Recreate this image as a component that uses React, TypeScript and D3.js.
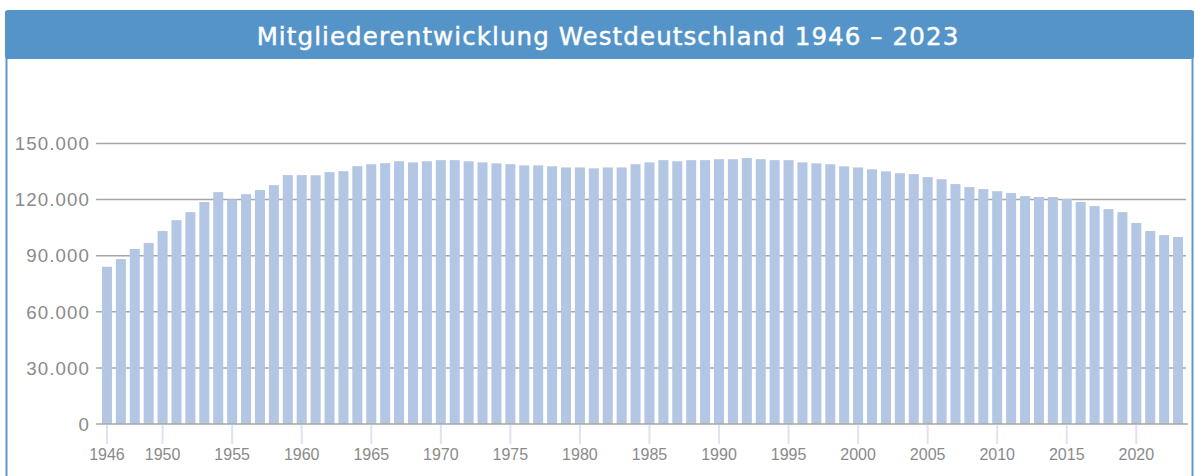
import React from "react";
import { range, scaleBand, scaleLinear, format } from "d3";

const WIDTH = 1195;
const HEIGHT = 476;
const TITLE = "Mitgliederentwicklung Westdeutschland 1946 – 2023";
const PANEL_BLUE = "#5594c9";
const BAR_COLOR = "#b3c6e4";
const GRID_COLOR = "#a6a6a6";
const LABEL_COLOR = "#8a8a8a";
const FONT = "'Liberation Sans', Arial, Helvetica, sans-serif";

const years: number[] = range(1946, 2024);

const members: number[] = [
    84100, 88200, 93600, 96800, 103200, 109000, 113300, 118700, 124000, 120100,
    122900, 125100, 127700, 133100, 133100, 133000, 134700, 135200, 137900, 138900,
    139500, 140500, 139900, 140500, 141100, 141100, 140500, 139900, 139400, 138900,
    138300, 138300, 137800, 137200, 137200, 136700, 137200, 137200, 138900, 139900,
    141100, 140500, 141100, 141100, 141600, 141600, 142200, 141600, 141100, 141100,
    139900, 139400, 138900, 137800, 137200, 136200, 135100, 134100, 133600, 132000,
    130900, 128300, 126700, 125600, 124500, 123500, 121900, 121400, 121400, 120300,
    118700, 116500, 114900, 113300, 107500, 103200, 101000, 100000,
];

const xTickYears: number[] = [
    1946, 1950, 1955, 1960, 1965, 1970, 1975, 1980, 1985, 1990, 1995, 2000, 2005, 2010, 2015, 2020,
];

const yTicks: number[] = [0, 30000, 60000, 90000, 120000, 150000];

// german thousands separator
const fmt = (v: number) => format(",")(v).replace(/,/g, ".");

export default function App() {
    const x = scaleBand<number>()
        .domain(years)
        .range([100, 1185])
        .paddingInner(0.28)
        .paddingOuter(0.14);
    const y = scaleLinear().domain([0, 150000]).range([424, 143.5]);

    const gridLeft = 96;
    const gridRight = 1186;

    return (
        <svg
            width={WIDTH}
            height={HEIGHT}
            style={{ position: "absolute", left: 0, top: 0, display: "block", background: "#fff" }}
        >
            {/* panel frame */}
            <rect x={6.5} y={12} width={1186} height={480} fill="#fff" stroke="#5d99cc" strokeWidth={2} />
            <rect x={5} y={10} width={1189} height={49} rx={3} fill={PANEL_BLUE} />
            <text
                x={608}
                y={45}
                textAnchor="middle"
                fill="#fff"
                stroke="#fff"
                strokeWidth={0.45}
                fontFamily="'DejaVu Sans', sans-serif"
                fontSize={24.5}
                letterSpacing={1.1}
            >
                {TITLE}
            </text>

            {/* grid + y labels */}
            <g>
                {yTicks.map(t => (
                    <g key={t}>
                        {t > 0 && (
                            <line
                                x1={gridLeft}
                                x2={gridRight}
                                y1={y(t)}
                                y2={y(t)}
                                stroke={GRID_COLOR}
                                strokeWidth={1.5}
                            />
                        )}
                        <text
                            x={90}
                            y={y(t)}
                            dy="0.36em"
                            textAnchor="end"
                            fill={LABEL_COLOR}
                            fontFamily={FONT}
                            fontSize={18.7}
                            letterSpacing={1.1}
                        >
                            {fmt(t)}
                        </text>
                    </g>
                ))}
            </g>

            {/* bars */}
            <g>
                {years.map((yr, i) => (
                    <rect
                        key={yr}
                        x={x(yr)}
                        y={y(members[i])}
                        width={x.bandwidth()}
                        height={y(0) - y(members[i])}
                        fill={BAR_COLOR}
                    />
                ))}
            </g>

            {/* x axis */}
            <line x1={gridLeft} x2={1188} y1={y(0)} y2={y(0)} stroke={GRID_COLOR} strokeWidth={1.5} />
            <g>
                {xTickYears.map(yr => {
                    const cx = (x(yr) ?? 0) + x.bandwidth() / 2;
                    return (
                        <g key={yr} transform={`translate(${cx},0)`}>
                            <line y1={y(0) + 1} y2={444} stroke="#dbe4f2" strokeWidth={2} />
                            <text
                                y={460}
                                textAnchor="middle"
                                fill={LABEL_COLOR}
                                fontFamily={FONT}
                                fontSize={16}
                            >
                                {yr}
                            </text>
                        </g>
                    );
                })}
            </g>
        </svg>
    );
}
